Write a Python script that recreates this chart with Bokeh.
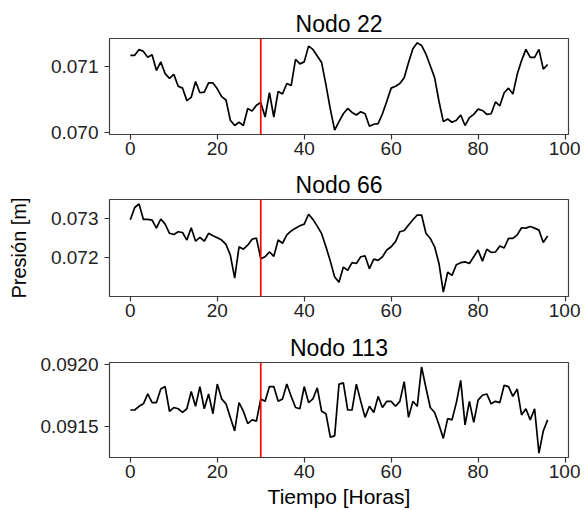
from bokeh.plotting import figure
from bokeh.models import Span, FixedTicker, PrintfTickFormatter, Range1d
from bokeh.layouts import column
from bokeh.embed import file_html
from bokeh.resources import INLINE

hours = list(range(97))
x_ticks = [0, 20, 40, 60, 80, 100]
event_hour = 30

titles = ["Nodo 22", "Nodo 66", "Nodo 113"]
y_ticks_22 = [0.070, 0.071]
y_ticks_66 = [0.072, 0.073]
y_ticks_113 = [0.0915, 0.0920]

nodo_22 = [0.07117, 0.07117, 0.07126, 0.07123, 0.07114, 0.07118, 0.07094, 0.07107, 0.07089, 0.07082,
           0.07088, 0.07070, 0.07067, 0.07048, 0.07053, 0.07077, 0.07060, 0.07061, 0.07075, 0.07075,
           0.07066, 0.07054, 0.07049, 0.07018, 0.07010, 0.07015, 0.07010, 0.07036, 0.07032, 0.07041,
           0.07045, 0.07023, 0.07060, 0.07023, 0.07062, 0.07058, 0.07074, 0.07071, 0.07111, 0.07104,
           0.07107, 0.07131, 0.07126, 0.07116, 0.07106, 0.07072, 0.07035, 0.07003, 0.07016, 0.07028,
           0.07036, 0.07030, 0.07026, 0.07031, 0.07028, 0.07009, 0.07012, 0.07013, 0.07028, 0.07047,
           0.07067, 0.07070, 0.07074, 0.07083, 0.07106, 0.07127, 0.07136, 0.07132, 0.07119, 0.07101,
           0.07083, 0.07047, 0.07016, 0.07020, 0.07015, 0.07018, 0.07026, 0.07010, 0.07022, 0.07027,
           0.07035, 0.07033, 0.07027, 0.07028, 0.07046, 0.07040, 0.07060, 0.07067, 0.07058, 0.07088,
           0.07109, 0.07126, 0.07114, 0.07114, 0.07126, 0.07096, 0.07103]

nodo_66 = [0.07296, 0.07327, 0.07336, 0.07297, 0.07297, 0.07295, 0.07275, 0.07298, 0.07285, 0.07262,
           0.07259, 0.07266, 0.07264, 0.07245, 0.07276, 0.07242, 0.07252, 0.07242, 0.07262, 0.07256,
           0.07251, 0.07245, 0.07234, 0.07207, 0.07149, 0.07228, 0.07222, 0.07232, 0.07247, 0.07250,
           0.07198, 0.07203, 0.07215, 0.07204, 0.07245, 0.07237, 0.07258, 0.07268, 0.07275, 0.07281,
           0.07285, 0.07310, 0.07297, 0.07280, 0.07261, 0.07228, 0.07192, 0.07152, 0.07139, 0.07177,
           0.07169, 0.07188, 0.07186, 0.07203, 0.07205, 0.07173, 0.07197, 0.07194, 0.07203, 0.07220,
           0.07228, 0.07241, 0.07266, 0.07269, 0.07283, 0.07296, 0.07308, 0.07308, 0.07262, 0.07249,
           0.07228, 0.07186, 0.07114, 0.07164, 0.07156, 0.07183, 0.07188, 0.07190, 0.07186, 0.07203,
           0.07220, 0.07192, 0.07222, 0.07214, 0.07215, 0.07230, 0.07225, 0.07249, 0.07249, 0.07258,
           0.07276, 0.07275, 0.07279, 0.07275, 0.07270, 0.07239, 0.07255]

nodo_113 = [0.09163, 0.09163, 0.09166, 0.09168, 0.09176, 0.09169, 0.09169, 0.09180, 0.09182, 0.09162,
            0.09165, 0.09164, 0.09161, 0.09164, 0.09178, 0.09166, 0.09182, 0.09164, 0.09176, 0.09160,
            0.09184, 0.09172, 0.09168, 0.09157, 0.09146, 0.09169, 0.09162, 0.09152, 0.09155, 0.09154,
            0.09172, 0.09170, 0.09182, 0.09182, 0.09170, 0.09172, 0.09184, 0.09174, 0.09165, 0.09164,
            0.09182, 0.09169, 0.09172, 0.09181, 0.09162, 0.09160, 0.09141, 0.09142, 0.09184, 0.09185,
            0.09163, 0.09163, 0.09184, 0.09170, 0.09157, 0.09166, 0.09161, 0.09174, 0.09165, 0.09170,
            0.09170, 0.09166, 0.09170, 0.09186, 0.09157, 0.09170, 0.09166, 0.09198, 0.09181, 0.09165,
            0.09161, 0.09151, 0.09140, 0.09156, 0.09155, 0.09169, 0.09187, 0.09151, 0.09170, 0.09153,
            0.09171, 0.09175, 0.09176, 0.09168, 0.09170, 0.09169, 0.09183, 0.09182, 0.09174, 0.09180,
            0.09159, 0.09164, 0.09155, 0.09164, 0.09128, 0.09146, 0.09155]

FONT = "Liberation Sans"

def make_panel(title, values, yticks, fmt, height, top, bottom, xlabel=None, ylabel=None):
    p = figure(width=580, height=height, output_backend="svg", toolbar_location=None,
               min_border_left=109, min_border_right=12, min_border_top=top, min_border_bottom=bottom,
               title=title)
    xmin, xmax = min(hours), max(hours)
    xm = 0.05 * (xmax - xmin)
    p.x_range = Range1d(xmin - xm, xmax + xm)
    ymin, ymax = min(values), max(values)
    ym = 0.05 * (ymax - ymin)
    p.y_range = Range1d(ymin - ym, ymax + ym)
    p.line(hours, values, line_color="black", line_width=1.7)
    p.add_layout(Span(location=event_hour, dimension="height", line_color="red", line_width=1.7))
    p.xgrid.visible = False
    p.ygrid.visible = False
    p.outline_line_color = "black"
    p.outline_line_width = 1.2
    p.outline_line_alpha = 0.75
    p.title.align = "center"
    p.title.text_font = FONT
    p.title.text_font_size = "23px"
    p.title.text_font_style = "normal"
    p.title.text_color = "black"
    p.title.standoff = 4
    p.xaxis.ticker = FixedTicker(ticks=x_ticks)
    p.yaxis.ticker = FixedTicker(ticks=yticks)
    p.yaxis.formatter = PrintfTickFormatter(format=fmt)
    for ax in (p.xaxis, p.yaxis):
        ax.major_label_text_font = FONT
        ax.major_label_text_font_size = "19px"
        ax.major_label_text_color = "#222222"
        ax.axis_line_color = None
        ax.major_tick_out = 5
        ax.major_tick_in = 0
        ax.minor_tick_out = 0
        ax.minor_tick_in = 0
        ax.major_tick_line_color = "#333333"
        ax.major_tick_line_width = 1.2
        ax.axis_label_text_font = FONT
        ax.axis_label_text_font_style = "normal"
        ax.axis_label_text_color = "black"
    p.xaxis.major_label_standoff = 2
    p.yaxis.major_label_standoff = 6
    if xlabel:
        p.xaxis.axis_label = xlabel
        p.xaxis.axis_label_text_font_size = "21px"
        p.xaxis.axis_label_standoff = 4
    if ylabel:
        p.yaxis.axis_label = ylabel
        p.yaxis.axis_label_text_font_size = "20px"
        p.yaxis.axis_label_standoff = 18
    return p

p1 = make_panel(titles[0], nodo_22, y_ticks_22, "%.3f", 164, 38, 30)
p2 = make_panel(titles[1], nodo_66, y_ticks_66, "%.3f", 162, 35, 30, ylabel="Presión [m]")
p3 = make_panel(titles[2], nodo_113, y_ticks_113, "%.4f", 184, 36, 53, xlabel="Tiempo [Horas]")

layout = column(p1, p2, p3, spacing=0)
open("out.html", "w").write(file_html(layout, INLINE))
